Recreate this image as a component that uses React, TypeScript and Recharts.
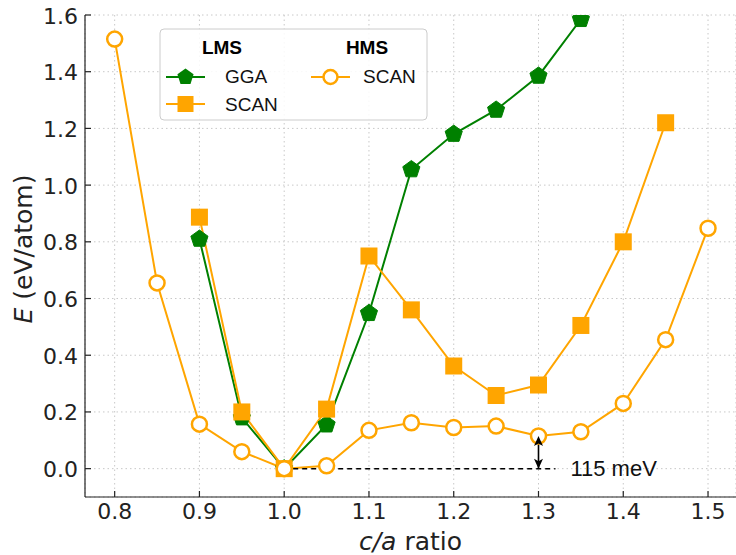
import React from 'react';
import {
  LineChart,
  Line,
  XAxis,
  YAxis,
  CartesianGrid,
  ReferenceDot,
} from 'recharts';

// c/a ratios sampled
const caRatio = [0.8, 0.85, 0.9, 0.95, 1.0, 1.05, 1.1, 1.15, 1.2, 1.25, 1.3, 1.35, 1.4, 1.45, 1.5];

// energies in eV/atom (null = not computed)
const lmsGga = [null, null, 0.81, 0.18, 0.0, 0.155, 0.548, 1.055, 1.18, 1.265, 1.385, 1.585, null, null, null];
const lmsScan = [null, null, 0.887, 0.2, 0.0, 0.21, 0.75, 0.56, 0.362, 0.258, 0.295, 0.505, 0.8, 1.22, null];
const hmsScan = [1.515, 0.655, 0.157, 0.06, 0.0, 0.01, 0.135, 0.162, 0.145, 0.15, 0.115, 0.13, 0.23, 0.455, 0.848];

const xTicks = [0.8, 0.9, 1.0, 1.1, 1.2, 1.3, 1.4, 1.5];
const yTicks = [0.0, 0.2, 0.4, 0.6, 0.8, 1.0, 1.2, 1.4, 1.6];

// annotation: gap between the two phases at c/a = 1.3
const gapX = 1.3;
const gapValue = 0.115;
const gapLabel = '115 meV';
const zeroLineFrom = 1.0;
const zeroLineTo = 1.32;

const GREEN = '#008000';
const ORANGE = '#FFA500';
const FONT = '"DejaVu Sans", sans-serif';
const SANS = '"Liberation Sans", Arial, sans-serif';

const data = caRatio.map((ca, i) => ({
  ca,
  lmsGga: lmsGga[i],
  lmsScan: lmsScan[i],
  hmsScan: hmsScan[i],
}));

// dashed zero reference and vertical double arrow, drawn as their own series so they sit on top
const zeroData = [
  { ca: zeroLineFrom, zero: 0 },
  { ca: zeroLineTo, zero: 0 },
];
const gapData = [
  { ca: gapX, gap: 0 },
  { ca: gapX, gap: gapValue },
];

const pentagonPoints = (cx: number, cy: number, r: number) =>
  [0, 1, 2, 3, 4]
    .map((k) => {
      const a = (-90 + k * 72) * (Math.PI / 180);
      return `${cx + r * Math.cos(a)},${cy + r * Math.sin(a)}`;
    })
    .join(' ');

const PentagonDot = (props: any) => {
  const { cx, cy, key } = props;
  if (cx == null || cy == null || props.value == null) return <g key={key} />;
  return <polygon key={key} points={pentagonPoints(cx, cy, 9)} fill={GREEN} stroke={GREEN} strokeWidth={1} />;
};

const SquareDot = (props: any) => {
  const { cx, cy, key } = props;
  if (cx == null || cy == null || props.value == null) return <g key={key} />;
  return <rect key={key} x={cx - 8.5} y={cy - 8.5} width={17} height={17} fill={ORANGE} />;
};

const CircleDot = (props: any) => {
  const { cx, cy, key } = props;
  if (cx == null || cy == null) return <g key={key} />;
  return <circle key={key} cx={cx} cy={cy} r={7.5} fill="#fff" stroke={ORANGE} strokeWidth={2.5} />;
};

// arrow head: index 0 (bottom end) points down, index 1 (top end) points up
const ArrowHead = (props: any) => {
  const { cx, cy, key, index } = props;
  if (cx == null || cy == null) return <g key={key} />;
  const d = index === 0 ? -1 : 1;
  return (
    <polygon
      key={key}
      points={`${cx},${cy} ${cx - 4.5},${cy + d * 10} ${cx},${cy + d * 7.5} ${cx + 4.5},${cy + d * 10}`}
      fill="#000"
    />
  );
};

const XTick = (props: any) => {
  const { x, y, payload } = props;
  return (
    <g>
      <line x1={x} y1={y} x2={x} y2={y - 6} stroke="#222" strokeWidth={1.2} />
      <text x={x} y={y + 22} textAnchor="middle" fontSize={22} fill="#222" fontFamily={FONT}>
        {Number(payload.value).toFixed(1)}
      </text>
    </g>
  );
};

const TopTick = (props: any) => {
  const { x, y } = props;
  return <line x1={x} y1={y} x2={x} y2={y + 6} stroke="#222" strokeWidth={1.2} />;
};

const YTick = (props: any) => {
  const { x, y, payload } = props;
  return (
    <g>
      <line x1={x} y1={y} x2={x + 6} y2={y} stroke="#222" strokeWidth={1.2} />
      <text x={x - 7} y={y + 8.5} textAnchor="end" fontSize={22} fill="#222" fontFamily={FONT}>
        {Number(payload.value).toFixed(1)}
      </text>
    </g>
  );
};

const YLabel = (props: any) => {
  const { viewBox } = props;
  const cx = 23;
  const cy = viewBox.y + viewBox.height / 2 - 7;
  return (
    <text
      x={cx}
      y={cy}
      transform={`rotate(-90 ${cx} ${cy})`}
      textAnchor="middle"
      dominantBaseline="central"
      fontSize={25}
      fill="#222"
      fontFamily={FONT}
    >
      <tspan fontStyle="italic">E</tspan> (eV/atom)
    </text>
  );
};

const XLabel = (props: any) => {
  const { viewBox } = props;
  const cx = viewBox.x + viewBox.width / 2;
  return (
    <text x={cx} y={550} textAnchor="middle" fontSize={25} fill="#222" fontFamily={FONT}>
      <tspan fontStyle="italic">c/a</tspan> ratio
    </text>
  );
};

const GapText = (props: any) => {
  const { cx, cy } = props;
  if (cx == null) return null;
  return (
    <text x={cx + 15} y={cy + 7.5} fontSize={22} fill="#111" fontFamily={SANS}>
      {gapLabel}
    </text>
  );
};

const Legend = () => (
  <svg
    width={270}
    height={94}
    style={{ position: 'absolute', left: 159, top: 28, overflow: 'visible' }}
  >
    <rect x={1} y={1} width={267} height={91} rx={4} fill="rgba(255,255,255,0.85)" stroke="#ccc" strokeWidth={1} />
    <text x={63} y={26} textAnchor="middle" fontSize={19} fontWeight="bold" fill="#000" fontFamily={SANS}>LMS</text>
    <text x={208} y={26} textAnchor="middle" fontSize={19} fontWeight="bold" fill="#000" fontFamily={SANS}>HMS</text>

    <line x1={7} y1={49} x2={46} y2={49} stroke={GREEN} strokeWidth={2} />
    <polygon points={pentagonPoints(26.5, 49, 8.5)} fill={GREEN} />
    <text x={66} y={55} fontSize={19} fill="#111" fontFamily={SANS}>GGA</text>

    <line x1={7} y1={76} x2={46} y2={76} stroke={ORANGE} strokeWidth={2} />
    <rect x={18.5} y={68} width={16} height={16} fill={ORANGE} />
    <text x={66} y={83} fontSize={19} fill="#111" fontFamily={SANS}>SCAN</text>

    <line x1={152} y1={49} x2={191} y2={49} stroke={ORANGE} strokeWidth={2} />
    <circle cx={171.5} cy={49} r={7} fill="#fff" stroke={ORANGE} strokeWidth={2.5} />
    <text x={204} y={55} fontSize={19} fill="#111" fontFamily={SANS}>SCAN</text>
  </svg>
);

const App: React.FC = () => {
  return (
    <div style={{ position: 'absolute', left: 0, top: 0, width: 736, height: 555, background: '#fff' }}>
      <LineChart
        width={736}
        height={555}
        data={data}
        margin={{ top: 15, right: 0, bottom: 0, left: 0 }}
      >
        <CartesianGrid xAxisId="main" yAxisId="main" stroke="#c8c8c8" strokeDasharray="1.5 3" />
        <XAxis
          xAxisId="main"
          dataKey="ca"
          type="number"
          domain={[0.765, 1.533]}
          ticks={xTicks}
          allowDataOverflow
          height={58}
          tickSize={0}
          tickMargin={0}
          tick={<XTick />}
          tickLine={false}
          axisLine={{ stroke: '#222', strokeWidth: 1.2 }}
          label={<XLabel />}
        />
        <XAxis
          xAxisId="top"
          orientation="top"
          dataKey="ca"
          type="number"
          domain={[0.765, 1.533]}
          ticks={xTicks}
          allowDataOverflow
          height={0}
          tickSize={0}
          tickMargin={0}
          tick={<TopTick />}
          tickLine={false}
          axisLine={{ stroke: '#222', strokeWidth: 1.2 }}
        />
        <YAxis
          yAxisId="main"
          type="number"
          domain={[-0.1, 1.6]}
          ticks={yTicks}
          allowDataOverflow
          width={85}
          tickSize={0}
          tickMargin={0}
          tick={<YTick />}
          tickLine={false}
          axisLine={{ stroke: '#222', strokeWidth: 1.2 }}
          label={<YLabel />}
        />
        <Line
          xAxisId="main"
          yAxisId="main"
          dataKey="lmsGga"
          stroke={GREEN}
          strokeWidth={2}
          dot={PentagonDot}
          activeDot={false}
          isAnimationActive={false}
          type="linear"
        />
        <Line
          xAxisId="main"
          yAxisId="main"
          dataKey="lmsScan"
          stroke={ORANGE}
          strokeWidth={2}
          dot={SquareDot}
          activeDot={false}
          isAnimationActive={false}
          type="linear"
        />
        <Line
          xAxisId="main"
          yAxisId="main"
          dataKey="hmsScan"
          stroke={ORANGE}
          strokeWidth={2}
          dot={CircleDot}
          activeDot={false}
          isAnimationActive={false}
          type="linear"
        />
        <Line
          xAxisId="main"
          yAxisId="main"
          data={zeroData}
          dataKey="zero"
          stroke="#000"
          strokeWidth={1.5}
          strokeDasharray="5 4"
          dot={false}
          activeDot={false}
          isAnimationActive={false}
          type="linear"
        />
        <Line
          xAxisId="main"
          yAxisId="main"
          data={gapData}
          dataKey="gap"
          stroke="#000"
          strokeWidth={1.6}
          dot={ArrowHead}
          activeDot={false}
          isAnimationActive={false}
          type="linear"
        />
        <ReferenceDot
          xAxisId="main"
          yAxisId="main"
          x={zeroLineTo}
          y={0}
          r={0}
          shape={<GapText />}
        />
      </LineChart>
      <Legend />
    </div>
  );
};

export default App;
